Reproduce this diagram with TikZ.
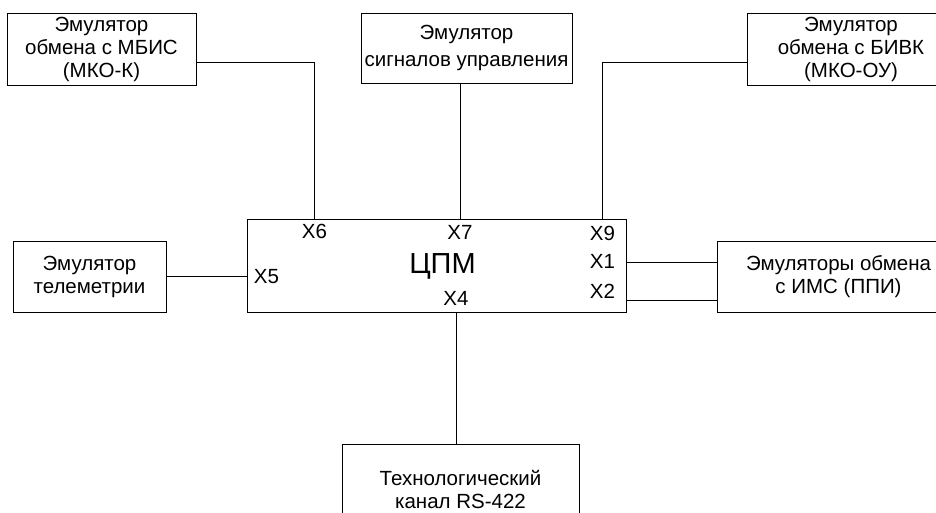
\documentclass[tikz,border=0pt]{standalone}
\usepackage{fontspec}
\setmainfont{Liberation Sans}
\usetikzlibrary{positioning, calc}

\begin{document}
\begin{tikzpicture}[x=1pt, y=-1pt, line width=0.8pt,
  blk/.style  = {draw, align=center, inner sep=0pt, font=\fontsize{20.5}{23}\selectfont},
  port/.style = {inner sep=0pt, anchor=base, font=\fontsize{20.5}{23}\selectfont} ]

\useasboundingbox (0,0) rectangle (936,512);
\clip (0,0) rectangle (936,512);

% CPM - central module
\node[blk, minimum width=379pt, minimum height=93pt] (cpm) at (436.5,265.5) {};
\node[inner sep=0pt, anchor=base, font=\fontsize{29}{32}\selectfont] (cpmtxt) at (442.5,273) {ЦПМ};

% ports of CPM
\node[port] (x6) at (314.5,238) {X6};
\node[port] (x7) at (460,239)   {X7};
\node[port] (x9) at (602.5,240) {X9};
\node[port] (x5) at (266.5,283) {X5};
\node[port] (x1) at (602.5,268) {X1};
\node[port] (x2) at (602.5,298) {X2};
\node[port] (x4) at (456,305)   {X4};

% emulators around
\node[blk, minimum width=189pt, minimum height=72pt] (mbis) at (101.5,49)  {Эмулятор\\обмена с МБИС\\(МКО-К)};
\node[blk, minimum width=211pt, minimum height=70pt, font=\fontsize{20.5}{27}\selectfont] (sig) at (466.5,48) {Эмулятор\\сигналов управления};
\node[blk, minimum width=208pt, minimum height=72pt] (bivk) at (851,49)    {Эмулятор\\обмена с БИВК\\(МКО-ОУ)};
\node[blk, minimum width=153pt, minimum height=71pt] (tel)  at (89.5,276.5) {Эмулятор\\телеметрии};
\node[blk, minimum width=243pt, minimum height=71pt] (ppi)  at (838.5,276.5) {Эмуляторы обмена\\с ИМС (ППИ)};
\node[blk, minimum width=237pt, minimum height=90pt] (tech) at (460.5,489) {Технологический\\канал RS-422};

%--- MBIS -> X6 ---
\draw ([yshift=-13pt]mbis.east) -| (x6 |- cpm.north);

%--- signals -> X7 ---
\draw (x7 |- sig.south) -- (x7 |- cpm.north);

%--- BIVK -> X9 ---
\draw ([yshift=-13pt]bivk.west) -| (x9 |- cpm.north);

%--- telemetry -> X5 ---
\draw (tel.east) -- (tel.east -| cpm.west);

%--- X1, X2 -> PPI ---
\draw ([yshift=14.5pt]ppi.west) -- ([yshift=14.5pt]ppi.west -| cpm.east);
\draw ([yshift=-23.5pt]ppi.west) -- ([yshift=-23.5pt]ppi.west -| cpm.east);

%--- X4 -> RS-422 ---
\draw (x4 |- cpm.south) -- (x4 |- tech.north);

\end{tikzpicture}
\end{document}
